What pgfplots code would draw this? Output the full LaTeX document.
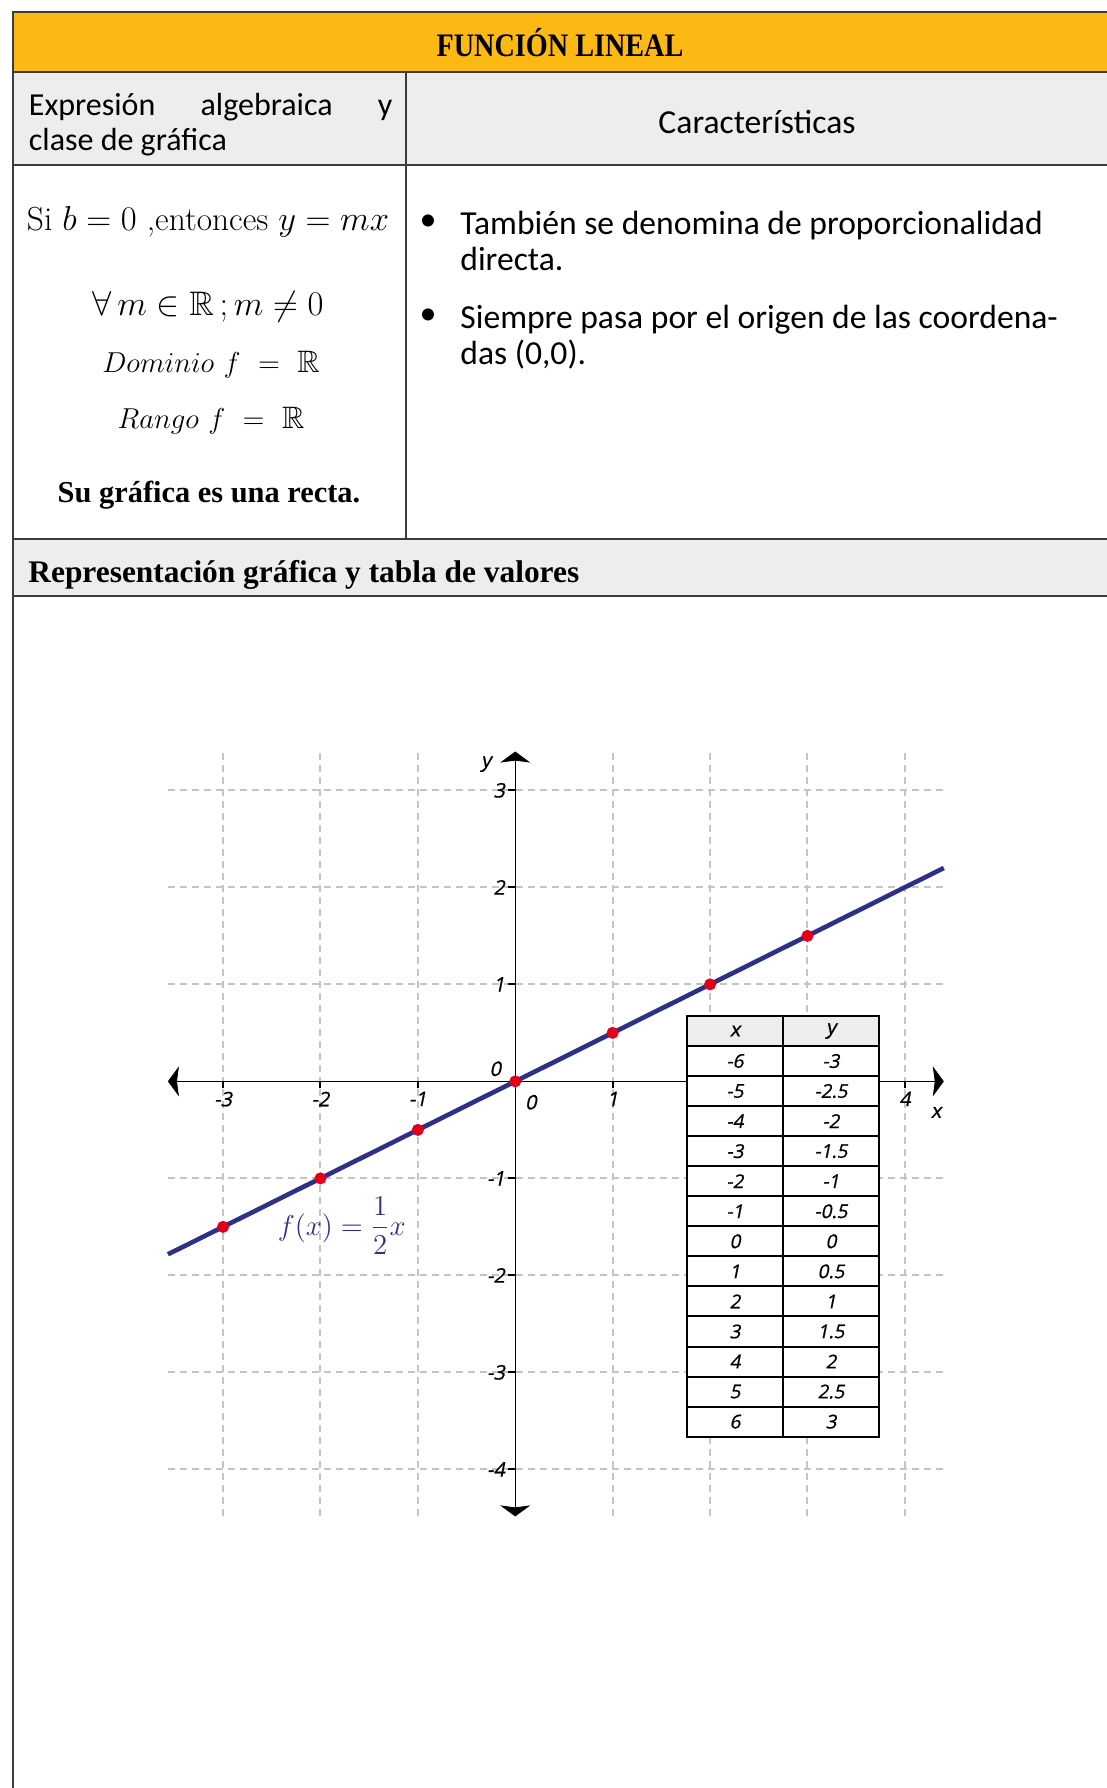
\documentclass[border=0pt]{standalone}
\usepackage{pgfplots}
\pgfplotsset{compat=1.18}
\usepackage{amsmath,amssymb}
\usepackage{graphicx}
\usepackage{fontspec}
\usetikzlibrary{arrows.meta}
\newfontfamily\bodyfont{Carlito}
\newfontfamily\headfont{Liberation Serif}
\newfontfamily\tickfont{Open Sans}[FakeBold=0.8, FakeSlant=0.2]
\definecolor{bandyellow}{HTML}{FDB913}
\definecolor{bandgray}{HTML}{EDEDED}
\definecolor{rulegray}{HTML}{3C3C3C}
\definecolor{linenavy}{HTML}{2E3087}
\definecolor{dotred}{HTML}{E3001B}
\definecolor{gridgray}{HTML}{C4C4C4}
\tikzset{axarrows/.style={arrows={Stealth[length=5.5pt,width=15pt,inset=1pt]-Stealth[length=5.5pt,width=15pt,inset=1pt]}}}

\begin{document}
\begin{tikzpicture}[x=0.5pt,y=0.5pt]
\useasboundingbox (0,0) rectangle (1107,-1788);
\clip (0,0) rectangle (1107,-1788);
\fill[white] (0,0) rectangle (1107,-1788);

% header bands
\fill[bandyellow] (13,-12) rectangle (1120,-72);
\fill[bandgray] (13,-72) rectangle (1120,-165);
\fill[bandgray] (13,-539) rectangle (1120,-596);

% table rules
\begin{scope}[draw=rulegray, line width=1pt]
\draw (13,-1800) -- (13,-12) -- (1120,-12);
\draw (13,-72) -- (1120,-72);
\draw (13,-165) -- (1120,-165);
\draw (13,-539) -- (1120,-539);
\draw (13,-596) -- (1120,-596);
\draw (406,-72) -- (406,-539);
\end{scope}

% header texts
\node[anchor=base, inner sep=0pt, font=\headfont\bfseries\fontsize{16.4}{19}\selectfont] at (560,-56.7) {\scalebox{0.86}[1]{FUNCIÓN LINEAL}};
\node[anchor=base west, inner sep=0pt, font=\bodyfont\fontsize{16}{19}\selectfont] at (28.5,-115) {\hbox to 181.75pt{Expresión\hfill algebraica\hfill y}};
\node[anchor=base west, inner sep=0pt, font=\bodyfont\fontsize{16}{19}\selectfont] at (28.5,-150) {clase de gráfica};
\node[anchor=base, inner sep=0pt, font=\bodyfont\fontsize{16.8}{19}\selectfont] at (757,-133) {Características};

% left cell
\begin{scope}[every node/.style={anchor=base, inner sep=0pt, font=\fontsize{15.5}{18}\selectfont}]
\node[font=\fontsize{16.7}{19}\selectfont] at (208,-230) {Si $b = 0$ ,entonces $y = mx$};
\node[font=\fontsize{17}{19}\selectfont] at (208,-315) {$\forall\, m \in \mathbb{R}\,; m \neq 0$};
\node at (211,-372) {$Dominio\ f\ =\ \mathbb{R}$};
\node at (211,-428) {$Rango\ f\ =\ \mathbb{R}$};
\end{scope}
\node[anchor=base, inner sep=0pt, font=\headfont\bfseries\fontsize{15.2}{18}\selectfont] at (209,-502) {Su gráfica es una recta.};

% right cell
\begin{scope}[every node/.style={anchor=base west, inner sep=0pt, font=\bodyfont\fontsize{16.8}{19}\selectfont}]
\node at (460,-234) {También se denomina de proporcionalidad};
\node at (460,-270) {directa.};
\node at (460,-328) {Siempre pasa por el origen de las coordena-};
\node at (460,-364) {das (0,0).};
\end{scope}
\node[inner sep=0pt, font=\bodyfont\fontsize{17}{17}\selectfont] at (428,-223) {•};
\node[inner sep=0pt, font=\bodyfont\fontsize{17}{17}\selectfont] at (428,-317) {•};

\node[anchor=base west, inner sep=0pt, font=\headfont\bfseries\fontsize{15.7}{19}\selectfont] at (28,-582) {Representación gráfica y tabla de valores};

% graph of f(x) = x/2
\begin{axis}[
  at={(529,-1114.8)}, anchor=origin,
  x=48.7pt, y=48.5pt,
  xmin=-3.566, xmax=4.40, ymin=-4.485, ymax=3.40,
  axis lines=middle,
  clip=false,
  axis line style={line width=1.4pt, black},
  every inner x axis line/.style={axarrows},
  every inner y axis line/.style={axarrows},
  xtick={-3,-2,-1,1,2,3,4},
  ytick={-4,-3,-2,-1,1,2,3},
  xticklabels={-3,-2,-1,1,2,3,4},
  yticklabels={-4,-3,-2,-1,1,2,3},
  tick align=outside,
  major tick length=3.5pt,
  tick style={black, line width=1pt},
  ticklabel style={font=\tickfont\fontsize{10}{12}\selectfont, inner sep=1.5pt},
  grid=major,
  major grid style={gridgray, dash pattern=on 3.5pt off 2.5pt, line width=1pt},
]
\addplot[linenavy, line width=2.3pt] coordinates {(-3.566,-1.783) (4.40,2.20)};
\addplot[only marks, mark=*, mark size=2.8pt, mark options={draw=dotred, fill=dotred}]
  coordinates {(-3,-1.5) (-2,-1) (-1,-0.5) (0,0) (1,0.5) (2,1) (3,1.5)};
\node[linenavy, font=\fontsize{15}{17}\selectfont] at (axis cs:-1.78,-1.49) {$f(x)=\dfrac{1}{2}x$};
\node[font=\tickfont\fontsize{10}{12}\selectfont] at (axis cs:0.16,-0.215) {0};
\node[font=\tickfont\fontsize{10}{12}\selectfont] at (axis cs:-0.205,0.13) {0};
\node[font=\tickfont\fontsize{10}{12}\selectfont] at (axis cs:4.32,-0.32) {x};
\node[font=\tickfont\fontsize{10}{12}\selectfont] at (axis cs:-0.30,3.27) {y};
\end{axis}

% table of values
\fill[bandgray] (686.7,-1015.7) rectangle (879,-1046);
\fill[white] (686.7,-1046) rectangle (879,-1436.7);
\begin{scope}[line width=1pt, draw=black]
\draw (686.7,-1015.7) rectangle (879,-1436.7);
\draw (783.3,-1015.7) -- (783.3,-1436.7);
\draw (686.7,-1046) -- (879,-1046);
\foreach \i in {1,...,12} {\draw (686.7,-1046-30.05*\i) -- (879,-1046-30.05*\i);}
\end{scope}
\begin{scope}[every node/.style={font=\tickfont\fontsize{9.5}{11}\selectfont}]
\node at (735,-1031) {\fontsize{10}{11}\selectfont x};
\node at (831,-1031) {\fontsize{10}{11}\selectfont y};
\foreach \xv/\yv [count=\i] in {-6/-3,-5/-2.5,-4/-2,-3/-1.5,-2/-1,-1/-0.5,0/0,1/0.5,2/1,3/1.5,4/2,5/2.5,6/3} {
  \node at (735,-1046-30.05*\i+15.03) {\xv};
  \node at (831,-1046-30.05*\i+15.03) {\yv};
}
\end{scope}
\end{tikzpicture}
\end{document}
